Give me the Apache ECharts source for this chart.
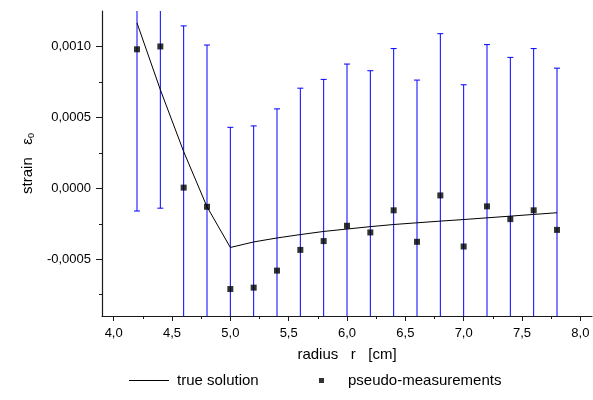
<!DOCTYPE html>
<html>
<head>
<meta charset="utf-8">
<script src="https://cdn.jsdelivr.net/npm/echarts@6/dist/echarts.min.js"></script>
<style>
  html, body { margin: 0; padding: 0; background: #fff; }
  #chart { width: 593px; height: 400px; }
</style>
</head>
<body>
<div id="chart"></div>
<script>
// Measurement positions (radius, cm) and measured strain with symmetric error half-widths
var radius = [4.2, 4.4, 4.6, 4.8, 5.0, 5.2, 5.4, 5.6, 5.8, 6.0, 6.2, 6.4, 6.6, 6.8, 7.0, 7.2, 7.4, 7.6, 7.8];
var measured = [0.00098, 0.00100, 0.000005, -0.00013, -0.00071, -0.00070, -0.00058, -0.000434, -0.000372,
                -0.000264, -0.000311, -0.000155, -0.000377, -0.00005, -0.00041, -0.000127, -0.000217, -0.000155, -0.000293];
var errorHalf = [0.00114, 0.00114, 0.00114, 0.00114, 0.00114, 0.00114, 0.00114, 0.00114, 0.00114, 0.00114,
                 0.00114, 0.00114, 0.00114, 0.00114, 0.00114, 0.00114, 0.00114, 0.00114, 0.00114];

// Exact solution sampled along the radius
var solutionR = [4.2, 4.4, 4.6, 4.8, 5.0, 5.2, 5.4, 5.6, 5.8, 6.0, 6.2, 6.4, 6.6, 6.8, 7.0, 7.2, 7.4, 7.6, 7.8];
var solutionStrain = [0.001166, 0.000695, 0.000259, -0.00013, -0.000417, -0.000378, -0.00035, -0.000326, -0.000304,
                      -0.000287, -0.00027, -0.000255, -0.000243, -0.000231, -0.00022, -0.000208, -0.000196, -0.000184, -0.000172];

// Axis ticks
var xMajor = [4.0, 4.5, 5.0, 5.5, 6.0, 6.5, 7.0, 7.5, 8.0];
var xMinor = [4.25, 4.75, 5.25, 5.75, 6.25, 6.75, 7.25, 7.75];
var yMajor = [-0.0005, 0.0, 0.0005, 0.0010];
var yMinor = [-0.00075, -0.00025, 0.00025, 0.00075];

var FONT = 'Liberation Sans, Arial, sans-serif';
var AXIS_COLOR = '#1a1a1a';

function comma(v, digits) {
  return v.toFixed(digits).replace('.', ',');
}

var errData = radius.map(function (r, i) { return [r, measured[i], errorHalf[i]]; });
var pointData = radius.map(function (r, i) { return [r, measured[i]]; });
var lineData = solutionR.map(function (r, i) { return [r, solutionStrain[i]]; });

// Vertical error bar with end caps, clipped to the plotting area
function renderErrorBar(params, api) {
  var r = api.value(0), v = api.value(1), e = api.value(2);
  var lo = api.coord([r, v - e]);
  var hi = api.coord([r, v + e]);
  var cs = params.coordSys;
  var top = cs.y, bottom = cs.y + cs.height;
  var x = lo[0];
  var y1 = Math.max(hi[1], top), y2 = Math.min(lo[1], bottom);
  var style = { stroke: '#0000ff', lineWidth: 1 };
  var children = [{ type: 'line', shape: { x1: x, y1: y1, x2: x, y2: y2 }, style: style }];
  var capHalf = 3;
  if (hi[1] >= top) children.push({ type: 'line', shape: { x1: x - capHalf, y1: hi[1], x2: x + capHalf, y2: hi[1] }, style: style });
  if (lo[1] <= bottom) children.push({ type: 'line', shape: { x1: x - capHalf, y1: lo[1], x2: x + capHalf, y2: lo[1] }, style: style });
  return { type: 'group', children: children };
}

var chart = echarts.init(document.getElementById('chart'), null, { renderer: 'canvas' });
chart.setOption({
  animation: false,
  backgroundColor: '#ffffff',
  textStyle: { fontFamily: FONT, color: '#000' },
  grid: { left: 102, right: 1, top: 11, bottom: 84, containLabel: false },
  legend: [
    {
      data: [{ name: 'true solution', icon: 'rect' }],
      left: 129, top: 373, padding: 0,
      itemWidth: 40, itemHeight: 1,
      textStyle: { fontFamily: FONT, fontSize: 15, color: '#000', padding: [0, 0, 0, 3] }
    },
    {
      data: [{ name: 'pseudo-measurements', icon: 'rect' }],
      left: 319, top: 373, padding: 0,
      itemWidth: 5, itemHeight: 5,
      textStyle: { fontFamily: FONT, fontSize: 15, color: '#000', padding: [0, 0, 0, 19] }
    }
  ],
  xAxis: [
    {
      type: 'value', min: 3.9, max: 8.1,
      name: 'radius   r   [cm]', nameLocation: 'middle', nameGap: 31,
      nameTextStyle: { fontFamily: FONT, fontSize: 15, color: '#000' },
      axisLine: { onZero: false, lineStyle: { color: AXIS_COLOR, width: 1.2 } },
      axisTick: { customValues: xMajor, length: 5, lineStyle: { color: AXIS_COLOR } },
      axisLabel: { customValues: xMajor, formatter: function (v) { return comma(v, 1); },
                   fontFamily: FONT, fontSize: 13, color: '#000', margin: 11 },
      splitLine: { show: false }
    },
    {
      type: 'value', min: 3.9, max: 8.1, position: 'bottom',
      axisLine: { show: false, onZero: false },
      axisTick: { customValues: xMinor, length: 3, lineStyle: { color: AXIS_COLOR } },
      axisLabel: { show: false },
      splitLine: { show: false }
    }
  ],
  yAxis: [
    {
      type: 'value', min: -0.0009, max: 0.00125,
      name: '{s|strain}{sp|   }{e|ε}{sub|0}', nameLocation: 'middle', nameRotate: 90, nameGap: 62,
      nameTextStyle: {
        rich: {
          s: { fontFamily: FONT, fontSize: 15, color: '#000' },
          sp: { fontFamily: FONT, fontSize: 15 },
          e: { fontFamily: FONT, fontSize: 15, color: '#000' },
          sub: { fontFamily: FONT, fontSize: 9, color: '#000', verticalAlign: 'bottom', padding: [8, 0, 0, 0] }
        }
      },
      axisLine: { onZero: false, lineStyle: { color: AXIS_COLOR, width: 1.2 } },
      axisTick: { customValues: yMajor, length: 6, lineStyle: { color: AXIS_COLOR } },
      axisLabel: { customValues: yMajor, formatter: function (v) { return comma(v, 4); },
                   fontFamily: FONT, fontSize: 13, color: '#000', margin: 11 },
      splitLine: { show: false }
    },
    {
      type: 'value', min: -0.0009, max: 0.00125, position: 'left',
      axisLine: { show: false, onZero: false },
      axisTick: { show: true, customValues: yMinor, length: 3, lineStyle: { color: AXIS_COLOR } },
      axisLabel: { show: false },
      splitLine: { show: false }
    }
  ],
  series: [
    {
      name: 'error', type: 'custom', renderItem: renderErrorBar, data: errData,
      encode: { x: 0, y: 1 }, z: 2, silent: true
    },
    {
      name: 'true solution', type: 'line', data: lineData, showSymbol: false, symbol: 'none',
      lineStyle: { color: '#000', width: 1 }, itemStyle: { color: '#000' }, z: 3
    },
    {
      name: 'pseudo-measurements', type: 'scatter', data: pointData, symbol: 'rect', symbolSize: 6,
      itemStyle: { color: '#000' }, z: 4
    }
  ]
});
</script>
</body>
</html>
